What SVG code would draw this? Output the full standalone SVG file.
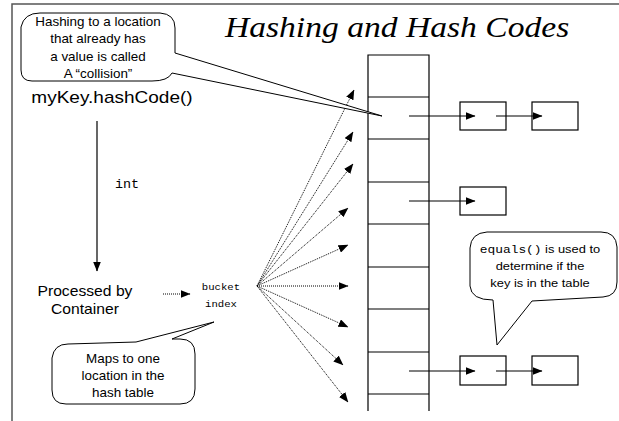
<svg xmlns="http://www.w3.org/2000/svg" width="619" height="421" viewBox="0 0 619 421">
  <style>
    text { font-family: "Liberation Sans", Arial, sans-serif; fill: #000; text-anchor: middle;
           transform-box: fill-box; transform-origin: center; transform: scaleX(1.12); }
    .title { font-family: "Liberation Serif", "Times New Roman", serif; font-style: italic; font-size: 30px; }
    .big { font-size: 17px; }
    .mid { font-size: 14px; }
    .note { font-size: 12px; }
    .small { font-size: 11.5px; }
    .mono { font-family: "Liberation Mono", "Courier New", monospace; }
    .frame { fill: none; stroke: #555; stroke-width: 1.5; }
    .bubble { fill: #fff; stroke: #000; stroke-width: 1; stroke-linejoin: round; }
    .grid { fill: none; stroke: #000; stroke-width: 1.2; }
    .entry { fill: #fff; stroke: #000; stroke-width: 1.2; }
    .solid { fill: none; stroke: #000; stroke-width: 1.2; marker-end: url(#head); }
    .dots { fill: none; stroke: #000; stroke-width: 1; stroke-dasharray: 1 1; marker-end: url(#head); }
  </style>
  <defs>
    <marker id="head" markerWidth="10" markerHeight="8" refX="9.5" refY="4" orient="auto" markerUnits="userSpaceOnUse">
      <path d="M0,0 L10,4 L0,8 Z" fill="#000"/>
    </marker>
  </defs>

  <!-- slide frame -->
  <path class="frame" d="M12,421 L12,4 L619,4"/>

  <g id="title">
    <text class="title" x="397" y="37">Hashing and Hash Codes</text>
  </g>

  <!-- hash table column -->
  <g id="table">
    <path class="grid" d="M368,411 L368,55 L429,55 L429,411
      M368,97 H429 M368,139 H429 M368,182 H429 M368,224 H429
      M368,267 H429 M368,309 H429 M368,352 H429 M368,394 H429"/>
  </g>

  <!-- chained entries -->
  <g id="entry-1a"><rect class="entry" x="460" y="102" width="46" height="28"/></g>
  <g id="entry-1b"><rect class="entry" x="532" y="102" width="46" height="28"/></g>
  <g id="entry-2a"><rect class="entry" x="460" y="187" width="46" height="28"/></g>
  <g id="entry-3a"><rect class="entry" x="460" y="356" width="46" height="29"/></g>
  <g id="entry-3b"><rect class="entry" x="532" y="356" width="46" height="29"/></g>

  <g id="key">
    <text class="big" x="112" y="103">myKey.hashCode()</text>
  </g>
  <g id="int-label">
    <text class="mono note" x="127" y="188">int</text>
  </g>
  <g id="container">
    <text class="mid" x="85" y="296">Processed by<tspan x="85" y="314">Container</tspan></text>
  </g>
  <g id="bucket-index">
    <text class="mono" font-size="9.5" x="221" y="290">bucket<tspan x="221" y="307">index</tspan></text>
  </g>

  <g id="connectors">
    <line class="solid" x1="97" y1="121" x2="97" y2="271"/>
    <line class="dots" x1="163" y1="294" x2="190" y2="294"/>
    <!-- fan of possible buckets -->
    <line class="dots" x1="257" y1="286" x2="354" y2="90"/>
    <line class="dots" x1="257" y1="286" x2="353" y2="132"/>
    <line class="dots" x1="257" y1="286" x2="353" y2="164"/>
    <line class="dots" x1="257" y1="286" x2="348" y2="208"/>
    <line class="dots" x1="257" y1="286" x2="348" y2="245"/>
    <line class="dots" x1="257" y1="286" x2="348" y2="286"/>
    <line class="dots" x1="257" y1="286" x2="348" y2="327"/>
    <line class="dots" x1="257" y1="286" x2="343" y2="365"/>
    <line class="dots" x1="257" y1="286" x2="348" y2="402"/>
    <!-- chains -->
    <line class="solid" x1="409" y1="116" x2="475" y2="116"/>
    <line class="solid" x1="496" y1="116" x2="542" y2="116"/>
    <line class="solid" x1="409" y1="201" x2="475" y2="201"/>
    <line class="solid" x1="409" y1="371" x2="475" y2="371"/>
    <line class="solid" x1="496" y1="371" x2="542" y2="371"/>
  </g>

  <g id="collision-note">
    <path class="bubble" d="M175,53 L382,116 L172,73 Q168,81 152,81 L32,81 Q21,81 21,70 L21,27 Q24,13 40,13 L160,13 Q175,14 175,28 Z"/>
    <text class="note" x="98" y="26">Hashing to a location<tspan x="98" y="43.5">that already has</tspan><tspan x="98" y="61">a value is called</tspan><tspan x="98" y="78">A “collision”</tspan></text>
  </g>

  <g id="maps-note">
    <path class="bubble" d="M136,342 L214,322 L172,339 L180,339 Q195,339 195,354 L195,389 Q195,404 180,404 L66,404 Q52,404 52,390 L52,358 Q54,344 68,344 Z"/>
    <text class="note" x="123" y="363">Maps to one<tspan x="123" y="380">location in the</tspan><tspan x="123" y="397">hash table</tspan></text>
  </g>

  <g id="equals-note">
    <path class="bubble" d="M493,300 L497,345 L532,301 L603,297 Q617,296 617,282 L617,247 Q616,232 601,232 L487,232 Q471,233 470,248 L470,286 Q471,300 493,300 Z"/>
    <text class="small" x="540" y="253"><tspan class="mono">equals()</tspan> is used to<tspan x="540" y="270">determine if the</tspan><tspan x="540" y="287">key is in the table</tspan></text>
  </g>
</svg>
